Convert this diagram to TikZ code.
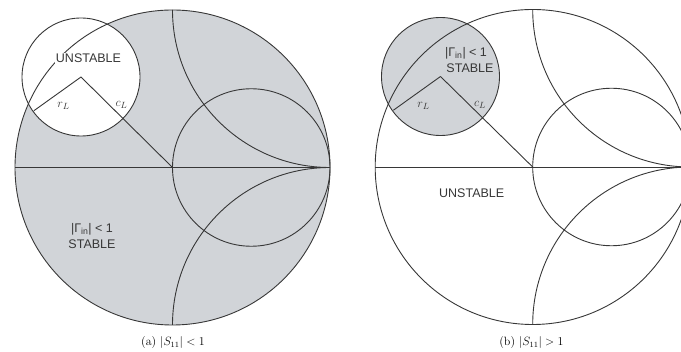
\documentclass[tikz,border=0pt]{standalone}
\usepackage{fontspec}
\newfontfamily\lab{Liberation Sans}
\usetikzlibrary{calc}
\definecolor{chartgray}{RGB}{209,212,216}
\definecolor{ink}{RGB}{55,55,55}
\begin{document}
\begin{tikzpicture}[x=1pt,y=-1pt,
  chartline/.style={draw=ink, line width=0.9pt},
  lbl/.style={font=\lab\fontsize{12.5}{13}\selectfont, text=ink, inner sep=1pt},
  mlbl/.style={font=\fontsize{13}{14}\selectfont, text=ink, inner sep=0pt},
  captxt/.style={font=\fontsize{12}{14}\selectfont, text=black, inner sep=0pt}]
\useasboundingbox (0,0) rectangle (681,352);
\clip (0,0) rectangle (681,352);
% ---------------- (a) ----------------
\coordinate (ca) at (172.5,167.5);
\coordinate (sa) at (81,77);
\coordinate (caL) at ($(ca)+(-157.5,0)$);
\coordinate (caR) at ($(ca)+(157.5,0)$);
\fill[chartgray] (ca) circle[radius=157.5pt];
\fill[white] (sa) circle[radius=59pt];
\draw[chartline] (ca) circle[radius=157.5pt];
\begin{scope}
  \clip (ca) circle[radius=157.5pt];
  \draw[chartline] ($(ca)+(157.5,-157.5)$) circle[radius=157.5pt];
  \draw[chartline] ($(ca)+(157.5,157.5)$) circle[radius=157.5pt];
\end{scope}
\draw[chartline] ($(ca)+(78.75,0)$) circle[radius=78.75pt];
\draw[chartline] (caL) -- (caR);
\draw[chartline] (sa) circle[radius=59pt];
\coordinate (ra) at ($(sa)+(144.4:58)$);
\draw[chartline] (sa) -- (ca);
\draw[chartline] (sa) -- (ra);
\node[lbl, fill=white] (ua) at (88.5,58.5) {UNSTABLE};
\node[mlbl] (rla) at (63.5,106) {$r_L$};
\node[mlbl] (cla) at (121.5,105) {$c_L$};
\node[lbl] (ga) at (92,229) {|Γ\textsubscript{in}| < 1};
\node[lbl] (sta) at (92,244) {STABLE};
\node[captxt] (capa) at (173,343) {(a) $|S_{11}| < 1$};
% ---------------- (b) ----------------
\coordinate (cb) at (532.7,167);
\coordinate (sb) at (440.5,76.5);
\coordinate (cbL) at ($(cb)+(-157.5,0)$);
\coordinate (cbR) at ($(cb)+(157.5,0)$);
\fill[chartgray] (sb) circle[radius=59pt];
\draw[chartline] (cb) circle[radius=157.5pt];
\begin{scope}
  \clip (cb) circle[radius=157.5pt];
  \draw[chartline] ($(cb)+(157.5,-157.5)$) circle[radius=157.5pt];
  \draw[chartline] ($(cb)+(157.5,157.5)$) circle[radius=157.5pt];
\end{scope}
\draw[chartline] ($(cb)+(78.75,0)$) circle[radius=78.75pt];
\draw[chartline] (cbL) -- (cbR);
\draw[chartline] (sb) circle[radius=59pt];
\coordinate (rb) at ($(sb)+(144.4:58)$);
\draw[chartline] (sb) -- (cb);
\draw[chartline] (sb) -- (rb);
\node[lbl, fill=chartgray] (gb) at (466,53) {|Γ\textsubscript{in}| < 1};
\node[lbl] (stb) at (470,68) {STABLE};
\node[mlbl] (rlb) at (423.5,106) {$r_L$};
\node[mlbl] (clb) at (480,105) {$c_L$};
\node[lbl] (ub) at (471.7,193) {UNSTABLE};
\node[captxt] (capb) at (531.5,343) {(b) $|S_{11}| > 1$};
\end{tikzpicture}
\end{document}
